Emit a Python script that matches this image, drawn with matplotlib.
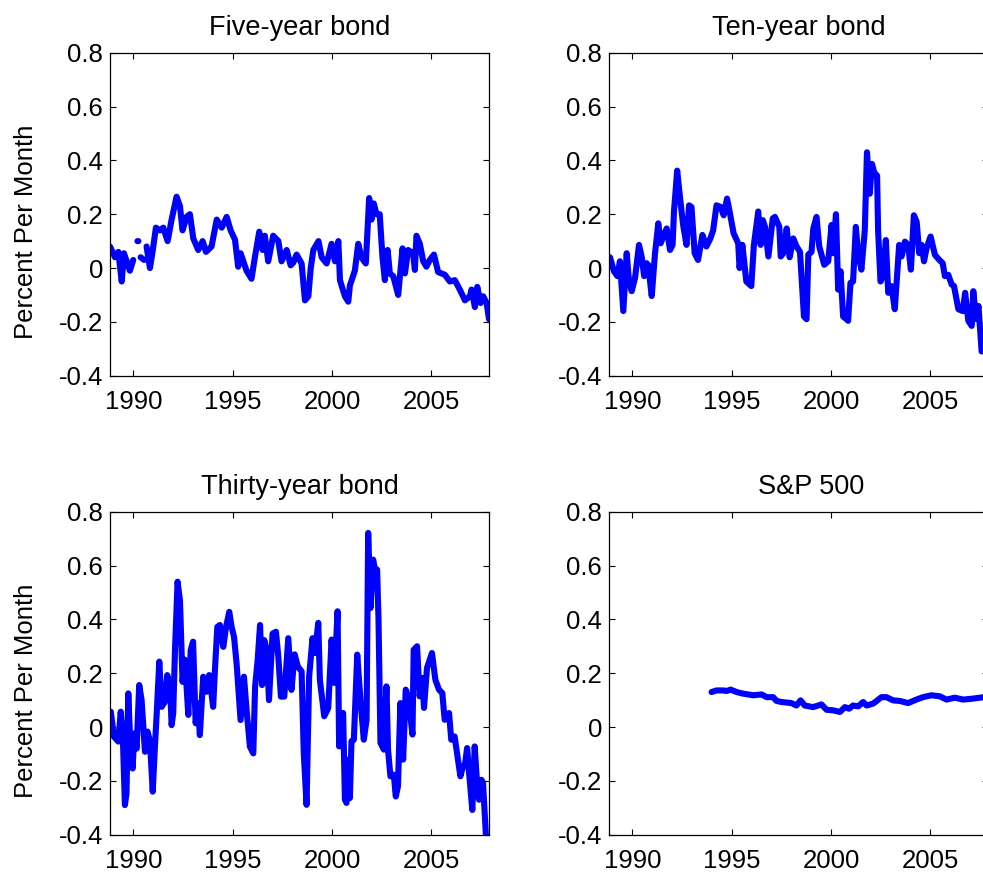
import matplotlib
matplotlib.use('Agg')
import matplotlib.pyplot as plt
from matplotlib.ticker import FuncFormatter
import numpy as np

plt.rcParams['font.family'] = ['Liberation Sans', 'DejaVu Sans']
plt.rcParams['axes.unicode_minus'] = False

nan = np.nan

# Five-year bond (gaps in 1990 kept as NaN)
five_year_t = [1988.83, 1989.08, 1989.25, 1989.42, 1989.53, 1989.67, 1989.83, 1990.00, nan,
               1990.21, 1990.26, nan, 1990.37, 1990.55, nan,
               1990.67, 1990.84, 1990.98, 1991.14, 1991.34, 1991.51, 1991.73, 1991.93, 1992.18,
               1992.35, 1992.48, 1992.68, 1992.85, 1993.02, 1993.27, 1993.49, 1993.66, 1993.94,
               1994.20, 1994.45, 1994.70, 1994.90, 1995.12, 1995.28, 1995.40, 1995.70, 1995.95,
               1996.12, 1996.34, 1996.51, 1996.62, 1996.79, 1997.04, 1997.30, 1997.46, 1997.72,
               1997.92, 1998.05, 1998.22, 1998.47, 1998.64, 1998.81, 1998.93, 1999.06, 1999.32,
               1999.48, 1999.73, 1999.98, 2000.15, 2000.32, 2000.40, 2000.65, 2000.82, 2000.90,
               2001.15, 2001.32, 2001.48, 2001.70, 2001.87, 2001.99, 2002.10, 2002.24, 2002.40,
               2002.54, 2002.66, 2002.80, 2002.91, 2003.08, 2003.33, 2003.55, 2003.67, 2003.83,
               2004.08, 2004.17, 2004.25, 2004.42, 2004.59, 2004.75, 2004.92, 2005.13, 2005.34,
               2005.68, 2005.93, 2006.18, 2006.43, 2006.69, 2006.94, 2007.02, 2007.19, 2007.31,
               2007.48, 2007.61, 2007.78, 2007.90]
five_year_v = [0.08, 0.04, 0.06, -0.05, 0.055, 0.025, -0.01, 0.03, nan,
               0.10, 0.10, nan, 0.04, 0.03, nan,
               0.08, 0.0, 0.065, 0.15, 0.14, 0.15, 0.10, 0.18, 0.265,
               0.23, 0.14, 0.19, 0.20, 0.11, 0.067, 0.10, 0.06, 0.08,
               0.18, 0.15, 0.19, 0.14, 0.105, 0.005, 0.055, -0.01, -0.04,
               0.04, 0.135, 0.067, 0.12, 0.025, 0.12, 0.10, 0.025, 0.067,
               0.01, 0.02, 0.05, 0.017, -0.12, -0.105, 0.0, 0.067, 0.10,
               0.04, 0.017, 0.09, 0.025, 0.10, -0.045, -0.105, -0.125, -0.065,
               -0.01, 0.09, 0.04, 0.017, 0.26, 0.18, 0.24, 0.20, 0.20,
               0.04, -0.045, 0.067, -0.02, -0.03, -0.10, 0.073, -0.02, 0.067,
               0.055, -0.007, 0.12, 0.09, 0.025, 0.005, 0.03, 0.05, -0.015,
               -0.025, -0.05, -0.045, -0.08, -0.12, -0.105, -0.08, -0.145, -0.07,
               -0.13, -0.105, -0.13, -0.19]

# Ten-year bond
ten_year_t = [1988.88, 1989.08, 1989.25, 1989.38, 1989.55, 1989.72, 1989.83, 1989.97, 1990.14,
              1990.34, 1990.47, 1990.60, 1990.72, 1990.80, 1990.98, 1991.14, 1991.31, 1991.43,
              1991.56, 1991.73, 1991.90, 1992.03, 1992.10, 1992.26, 1992.40, 1992.56, 1992.73,
              1992.86, 1992.98, 1993.14, 1993.31, 1993.53, 1993.73, 1993.93, 1994.07, 1994.24,
              1994.45, 1994.60, 1994.77, 1994.90, 1995.10, 1995.33, 1995.40, 1995.54, 1995.74,
              1995.99, 1996.12, 1996.34, 1996.46, 1996.57, 1996.68, 1996.85, 1997.07, 1997.18,
              1997.40, 1997.47, 1997.60, 1997.77, 1997.92, 1998.10, 1998.27, 1998.44, 1998.64,
              1998.77, 1998.86, 1999.02, 1999.11, 1999.27, 1999.41, 1999.66, 1999.86, 2000.03,
              2000.11, 2000.25, 2000.36, 2000.48, 2000.61, 2000.78, 2000.86, 2000.98, 2001.11,
              2001.25, 2001.36, 2001.53, 2001.70, 2001.81, 2001.95, 2002.06, 2002.17, 2002.32,
              2002.37, 2002.49, 2002.62, 2002.76, 2002.88, 2003.04, 2003.21, 2003.43, 2003.55,
              2003.72, 2003.88, 2004.02, 2004.17, 2004.31, 2004.44, 2004.56, 2004.68, 2004.81,
              2005.01, 2005.23, 2005.45, 2005.62, 2005.73, 2005.90, 2006.07, 2006.19, 2006.41,
              2006.63, 2006.75, 2006.91, 2007.08, 2007.16, 2007.30, 2007.42, 2007.58]
ten_year_v = [0.04, -0.012, -0.03, 0.025, -0.16, 0.055, -0.043, -0.086, -0.037,
              0.086, 0.043, -0.03, 0.018, 0.012, -0.104, 0.05, 0.166, 0.092,
              0.117, 0.147, 0.067, 0.086, 0.21, 0.362, 0.264, 0.16, 0.086,
              0.233, 0.227, 0.055, 0.03, 0.123, 0.08, 0.11, 0.14, 0.233,
              0.227, 0.196, 0.258, 0.21, 0.129, 0.092, 0.0, 0.086, -0.05,
              -0.067, 0.086, 0.21, 0.086, 0.178, 0.153, 0.043, 0.184, 0.19,
              0.153, 0.043, 0.055, 0.147, 0.04, 0.11, 0.08, 0.06, -0.18,
              -0.19, 0.05, 0.06, 0.147, 0.19, 0.08, 0.012, 0.025, 0.16,
              0.055, 0.20, -0.08, -0.012, -0.18, -0.19, -0.196, -0.055, -0.05,
              0.153, 0.055, -0.006, 0.14, 0.43, 0.276, 0.387, 0.356, 0.343,
              0.14, -0.05, -0.03, 0.104, -0.092, -0.067, -0.153, 0.086, 0.043,
              0.098, 0.086, -0.006, 0.196, 0.172, 0.055, 0.086, 0.025, 0.074,
              0.117, 0.049, 0.03, 0.018, -0.03, -0.025, -0.061, -0.067, -0.153,
              -0.16, -0.092, -0.196, -0.215, -0.086, -0.19, -0.141, -0.31]

# Thirty-year bond
thirty_year_t = [1988.87, 1989.03, 1989.25, 1989.37, 1989.47, 1989.58, 1989.66, 1989.75, 1989.83,
                 1989.97, 1990.05, 1990.17, 1990.30, 1990.42, 1990.59, 1990.72, 1990.84, 1990.98,
                 1991.09, 1991.18, 1991.31, 1991.43, 1991.59, 1991.71, 1991.85, 1991.93, 1992.01,
                 1992.10, 1992.23, 1992.35, 1992.48, 1992.60, 1992.77, 1992.89, 1993.01, 1993.14,
                 1993.26, 1993.35, 1993.52, 1993.69, 1993.82, 1994.02, 1994.11, 1994.23, 1994.36,
                 1994.53, 1994.67, 1994.83, 1994.95, 1995.07, 1995.20, 1995.40, 1995.57, 1995.71,
                 1995.87, 1996.04, 1996.13, 1996.26, 1996.38, 1996.48, 1996.59, 1996.72, 1996.83,
                 1997.01, 1997.18, 1997.30, 1997.43, 1997.60, 1997.80, 1997.96, 1998.12, 1998.28,
                 1998.47, 1998.58, 1998.72, 1998.85, 1999.02, 1999.14, 1999.31, 1999.39, 1999.61,
                 1999.81, 1999.98, 2000.11, 2000.28, 2000.36, 2000.48, 2000.56, 2000.65, 2000.73,
                 2000.81, 2000.90, 2000.98, 2001.10, 2001.27, 2001.43, 2001.60, 2001.74, 2001.82,
                 2001.94, 2002.07, 2002.19, 2002.27, 2002.34, 2002.44, 2002.61, 2002.74, 2002.82,
                 2002.94, 2003.11, 2003.21, 2003.32, 2003.44, 2003.58, 2003.71, 2003.83, 2004.05,
                 2004.11, 2004.28, 2004.41, 2004.55, 2004.63, 2004.78, 2005.03, 2005.20, 2005.38,
                 2005.55, 2005.67, 2005.89, 2006.00, 2006.17, 2006.34, 2006.46, 2006.59, 2006.68,
                 2006.80, 2006.90, 2007.06, 2007.18, 2007.30, 2007.40, 2007.52, 2007.60, 2007.75]
thirty_year_v = [0.057, -0.036, -0.054, 0.057, -0.024, -0.29, -0.246, 0.125, -0.024,
                 -0.154, -0.024, -0.08, 0.156, 0.10, -0.092, -0.017, -0.054, -0.24,
                 -0.073, 0.05, 0.243, 0.075, 0.094, 0.193, 0.156, 0.007, 0.05,
                 0.286, 0.54, 0.47, 0.168, 0.25, 0.045, 0.286, 0.317, 0.014,
                 0.088, -0.03, 0.187, 0.131, 0.193, 0.075, 0.212, 0.372, 0.379,
                 0.298, 0.372, 0.428, 0.372, 0.335, 0.236, 0.026, 0.187, 0.057,
                 -0.073, -0.098, 0.15, 0.249, 0.379, 0.156, 0.323, 0.286, 0.10,
                 0.347, 0.354, 0.261, 0.113, 0.113, 0.33, 0.138, 0.27, 0.225,
                 0.207, -0.097, -0.289, 0.188, 0.33, 0.275, 0.387, 0.176, 0.04,
                 0.07, 0.325, 0.164, 0.43, -0.072, 0.052, 0.052, -0.27, -0.282,
                 -0.121, -0.264, -0.053, -0.047, 0.269, 0.102, -0.047, 0.027, 0.721,
                 0.442, 0.622, 0.572, 0.585, 0.40, -0.059, -0.084, 0.151, -0.084,
                 -0.183, -0.177, -0.258, -0.22, 0.089, -0.121, 0.139, 0.114, -0.028,
                 0.287, 0.30, 0.114, 0.182, 0.071, 0.219, 0.275, 0.176, 0.139,
                 0.126, 0.027, 0.052, -0.047, -0.035, -0.121, -0.183, -0.146, -0.146,
                 -0.078, -0.171, -0.308, -0.072, -0.208, -0.27, -0.196, -0.208, -0.41]

# S&P 500
sp500_t = [1993.99, 1994.24, 1994.58, 1994.75, 1994.95, 1995.25, 1995.58, 1996.09, 1996.51,
           1996.76, 1997.09, 1997.26, 1997.51, 1998.01, 1998.26, 1998.47, 1998.68, 1999.10,
           1999.52, 1999.78, 2000.11, 2000.45, 2000.70, 2000.91, 2001.11, 2001.37, 2001.62,
           2001.79, 2002.12, 2002.54, 2002.79, 2003.13, 2003.46, 2003.88, 2004.30, 2004.63,
           2005.06, 2005.48, 2005.81, 2006.23, 2006.65, 2007.07, 2007.49, 2007.69]
sp500_v = [0.13, 0.136, 0.136, 0.134, 0.139, 0.13, 0.124, 0.118, 0.121,
           0.111, 0.111, 0.097, 0.093, 0.089, 0.08, 0.099, 0.08, 0.074,
           0.084, 0.064, 0.062, 0.056, 0.074, 0.068, 0.08, 0.077, 0.093,
           0.08, 0.087, 0.111, 0.111, 0.099, 0.097, 0.089, 0.102, 0.111,
           0.118, 0.114, 0.102, 0.109, 0.102, 0.105, 0.109, 0.111]

titles = ['Five-year bond', 'Ten-year bond', 'Thirty-year bond', 'S&P 500']
x_ticks = [1990, 1995, 2000, 2005]
y_ticks = [-0.4, -0.2, 0, 0.2, 0.4, 0.6, 0.8]
ylabel = 'Percent Per Month'

W, H = 983, 882
fig = plt.figure(figsize=(W / 100, H / 100), dpi=100)

# axes boxes in pixels: left, top (right column runs past the figure edge)
boxes = [(110, 52.7), (609, 52.7), (110, 511.7), (609, 511.7)]
aw, ah = 379, 323
series = [(five_year_t, five_year_v), (ten_year_t, ten_year_v),
          (thirty_year_t, thirty_year_v), (sp500_t, sp500_v)]
title_x = [0.5, 0.5, 0.5, 0.533]

for i, ((left, top), (t, v), title) in enumerate(zip(boxes, series, titles)):
    ax = fig.add_axes([left / W, 1 - (top + ah) / H, aw / W, ah / H])
    ax.plot(t, v, color='#0000ff', lw=4.4, solid_capstyle='round')
    ax.set_xlim(1988.83, 2007.9)
    ax.set_ylim(-0.4, 0.8)
    ax.set_xticks(x_ticks)
    ax.set_yticks(y_ticks)
    ax.yaxis.set_major_formatter(FuncFormatter(lambda y, p: '0' if abs(y) < 1e-9 else f'{y:.1f}'))
    ax.tick_params(direction='in', length=4, width=0.8, top=True, right=True,
                   labelsize=18.5, colors='black')
    ax.tick_params(axis='x', pad=10)
    ax.tick_params(axis='y', pad=5)
    for s in ax.spines.values():
        s.set_linewidth(0.9)
    ax.set_title(title, fontsize=19.5, pad=13, x=title_x[i])
    if i % 2 == 0:
        ax.set_ylabel(ylabel, fontsize=18.5)
        ax.yaxis.set_label_coords(-0.19, 0.447)

fig.savefig('out.png', dpi=100)
